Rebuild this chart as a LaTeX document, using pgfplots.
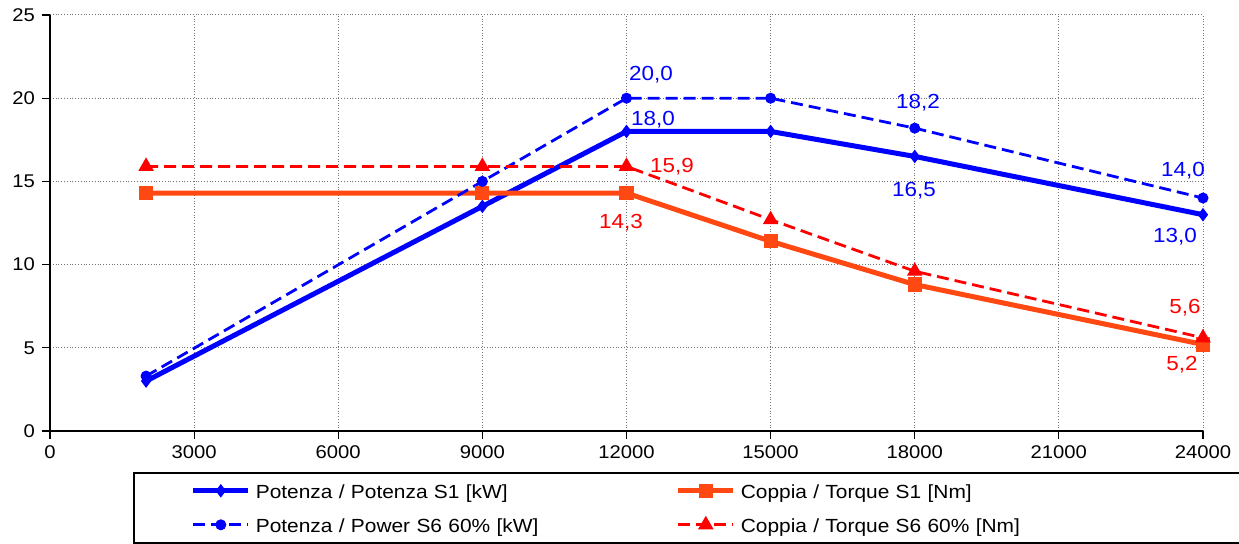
\documentclass[border=0pt]{standalone}
\usepackage{fontspec}
\setmainfont{Liberation Sans}[FakeStretch=1.1]
\usepackage{pgfplots}
\pgfplotsset{compat=1.18}
\definecolor{pblue}{RGB}{0,0,255}
\definecolor{torange}{RGB}{255,72,18}
\definecolor{tred}{RGB}{255,0,0}
\newcommand\lab{\fontsize{10.2}{11}\selectfont}

\begin{document}
\begin{tikzpicture}
\begin{axis}[
  at={(25pt,56.5pt)}, anchor=south west,
  scale only axis, width=576.5pt, height=208pt,
  xmin=0, xmax=24000, ymin=0, ymax=25,
  xtick={0,3000,...,24000}, ytick={0,5,...,25},
  scaled x ticks=false,
  /pgf/number format/1000 sep={},
  /pgf/number format/assume math mode=true,
  tick label style={font=\fontsize{9.2}{10}\selectfont},
  axis x line*=bottom, axis y line*=left,
  axis line style={black, line width=0.8pt},
  grid=major,
  major grid style={gray!90!black, densely dotted, line width=0.5pt},
  tick align=outside, major tick length=4pt,
  tick style={black, line width=0.6pt},
  legend columns=2,
  legend cell align=left,
  legend image code/.code={\draw[mark repeat=2,mark phase=2] plot coordinates {(0pt,0pt) (13.75pt,0pt) (27.5pt,0pt)};},
  legend style={at={(0.072,-0.0986)}, anchor=north west,
    draw=black, line width=0.8pt, inner xsep=28.5pt, inner ysep=4.6pt,
    row sep=8.2pt,
    nodes={inner sep=0pt, text height=8pt, text depth=0.8pt, font=\fontsize{9.5}{12}\selectfont},
    /tikz/column 1/.style={column sep=2.5pt},
    /tikz/column 2/.style={text width=210pt},
    /tikz/column 3/.style={column sep=2.5pt},
    /tikz/column 4/.style={text width=223pt}},
]
\addplot[pblue, line width=2.5pt, mark=diamond*, mark size=3pt, mark options={solid, line width=0.5pt}]
  coordinates {(2000,3.0) (9000,13.5) (12000,18.0) (15000,18.0) (18000,16.5) (24000,13.0)};
\addlegendentry{Potenza / Potenza S1 [kW]}
\addplot[torange, line width=2.5pt, mark=square*, mark size=3.3pt, mark options={solid, line width=0.5pt}]
  coordinates {(2000,14.3) (9000,14.3) (12000,14.3) (15000,11.4) (18000,8.8) (24000,5.2)};
\addlegendentry{Coppia / Torque S1 [Nm]}
\addplot[pblue, line width=1.4pt, dash pattern=on 6pt off 3pt, mark=*, mark size=2.5pt, mark options={solid, line width=0.5pt}]
  coordinates {(2000,3.3) (9000,15.0) (12000,20.0) (15000,20.0) (18000,18.2) (24000,14.0)};
\addlegendentry{Potenza / Power S6 60\% [kW]}
\addplot[tred, line width=1.4pt, dash pattern=on 6pt off 3pt, mark=triangle*, mark size=4pt, mark options={solid, line width=0.5pt}]
  coordinates {(2000,15.9) (9000,15.9) (12000,15.9) (15000,12.7) (18000,9.6) (24000,5.6)};
\addlegendentry{Coppia / Torque S6 60\% [Nm]}

\node[pblue, font=\lab] at (axis cs:12510,21.39) {20,0};
\node[pblue, font=\lab] at (axis cs:12551,18.69) {18,0};
\node[pblue, font=\lab] at (axis cs:18067,19.71) {18,2};
\node[pblue, font=\lab] at (axis cs:17984,14.42) {16,5};
\node[pblue, font=\lab] at (axis cs:23583,15.63) {14,0};
\node[pblue, font=\lab] at (axis cs:23417,11.66) {13,0};
\node[tred, font=\lab] at (axis cs:12947,15.87) {15,9};
\node[tred, font=\lab] at (axis cs:11885,12.50) {14,3};
\node[tred, font=\lab] at (axis cs:23625,7.39) {5,6};
\node[tred, font=\lab] at (axis cs:23562,3.97) {5,2};
\end{axis}
\pgfresetboundingbox
\path[use as bounding box] (0,0) rectangle (619.5pt,272pt);
\end{tikzpicture}
\end{document}
